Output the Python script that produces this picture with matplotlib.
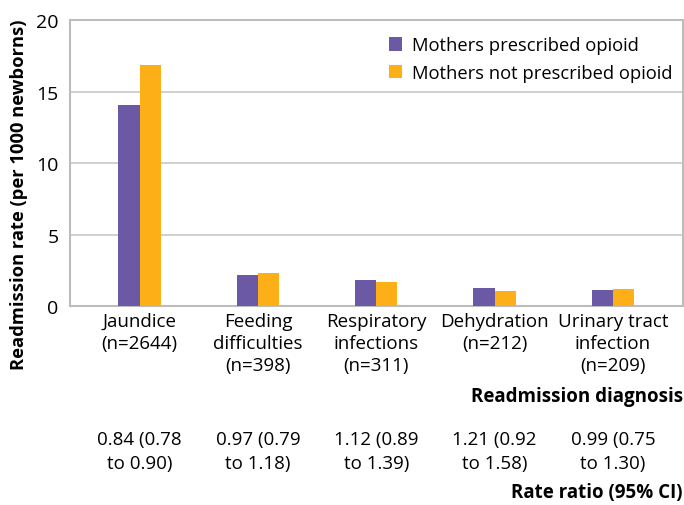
import matplotlib.pyplot as plt
import numpy as np

plt.rcParams['font.family'] = ['Open Sans', 'DejaVu Sans']

# data
categories = ["Jaundice\n(n=2644)", "Feeding\ndifficulties\n(n=398)",
              "Respiratory\ninfections\n(n=311)", "Dehydration\n(n=212)",
              "Urinary tract\ninfection\n(n=209)"]
prescribed = [14.05, 2.17, 1.82, 1.26, 1.12]
not_prescribed = [16.85, 2.31, 1.68, 1.05, 1.19]
rate_ratios = ["0.84 (0.78\nto 0.90)", "0.97 (0.79\nto 1.18)", "1.12 (0.89\nto 1.39)",
               "1.21 (0.92\nto 1.58)", "0.99 (0.75\nto 1.30)"]

purple = "#6b59a6"
orange = "#fcaf17"
fs = 13.5

fig = plt.figure(figsize=(6.84, 5.06), dpi=100)
ax = fig.add_axes([0.102, 0.393, 0.896, 0.5655])

x = np.arange(len(categories))
w = 0.18
ax.bar(x - w / 2, prescribed, w, color=purple, label="Mothers prescribed opioid", zorder=3)
ax.bar(x + w / 2, not_prescribed, w, color=orange, label="Mothers not prescribed opioid", zorder=3)

ax.set_xlim(-0.59, 4.59)
ax.set_ylim(0, 20)
ax.set_yticks([0, 5, 10, 15, 20])
ax.yaxis.grid(True, color="#c8c8c8", lw=1.2, zorder=1)
ax.set_axisbelow(True)
# grey frame round the plot area
for s in ax.spines.values():
    s.set_color("#bdbdbd")
    s.set_linewidth(1.5)

ax.set_xticks(x)
ax.set_xticklabels(categories, fontsize=fs, linespacing=1.3, va="top")
ax.tick_params(axis="x", length=0, pad=4)
ax.tick_params(axis="y", length=0, pad=8, labelsize=14)

ax.legend(loc="upper right", bbox_to_anchor=(1.011, 1.0), frameon=False,
          fontsize=13.2, handlelength=0.75, handleheight=0.75, handletextpad=0.55,
          labelspacing=0.5)

fig.text(0.028, 1 - 195 / 506, "Readmission rate (per 1000 newborns)", rotation=90,
         ha="center", va="center", fontsize=13.2, fontweight="bold")
fig.text(0.998, 1 - 397 / 506, "Readmission diagnosis", ha="right", va="center",
         fontsize=13.5, fontweight="bold")
fig.text(0.998, 1 - 493 / 506, "Rate ratio (95% CI)", ha="right", va="center",
         fontsize=13.5, fontweight="bold")

for i, rr in enumerate(rate_ratios):
    ax.text(x[i], -(452 - 307) / (307 - 21), rr, transform=ax.get_xaxis_transform(),
            ha="center", va="center", fontsize=fs, linespacing=1.4)

fig.savefig("out.png", dpi=100)
